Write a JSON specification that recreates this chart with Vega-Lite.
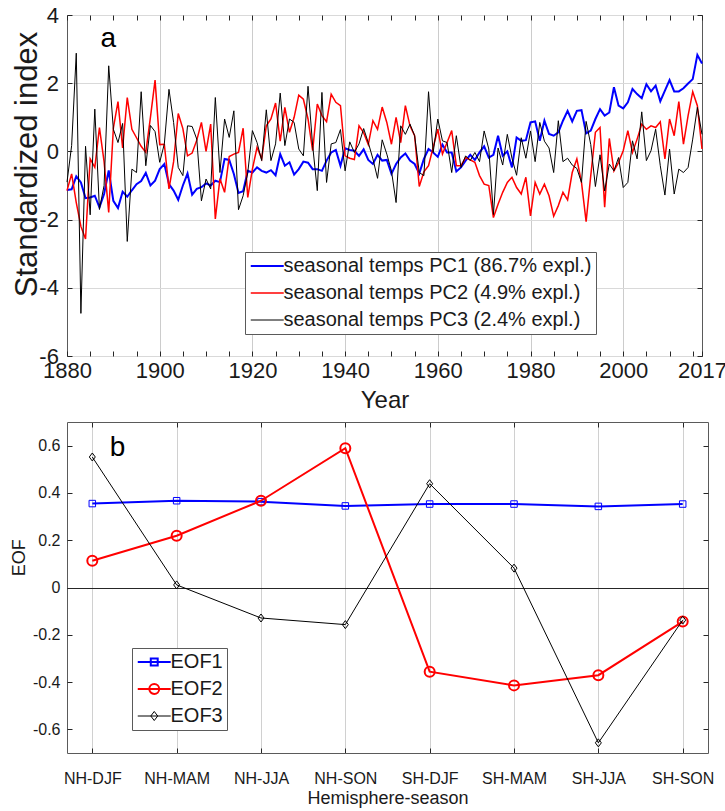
{
  "$schema": "https://vega.github.io/schema/vega-lite/v6.json",
  "autosize": {"type": "pad"},
  "padding": {"left": 10, "top": 3, "right": 0, "bottom": 0},
  "background": "white",
  "spacing": 7,
  "resolve": {
    "scale": {"color": "independent", "strokeWidth": "independent", "x": "independent", "y": "independent"},
    "legend": {"color": "independent", "strokeWidth": "independent"}
  },
  "config": {
    "font": "Liberation Sans",
    "view": {"stroke": "#5a5a5a", "strokeWidth": 1},
    "axis": {"domain": false, "tickColor": "#262626", "tickWidth": 1, "labelColor": "#1a1a1a", "titleColor": "#1a1a1a", "titleFontWeight": "normal", "labelFlush": false, "labelOverlap": false},
    "legend": {"labelColor": "#1a1a1a"}
  },
  "vconcat": [
    {
      "width": 635,
      "height": 341,
      "layer": [
        {
          "data": {"values": [
            {"year":1880,"PC1":-1.13,"PC2":-1.15,"PC3":-0.9},
            {"year":1881,"PC1":-1.11,"PC2":-0.66,"PC3":0.17},
            {"year":1882,"PC1":-0.73,"PC2":-1.5,"PC3":2.88},
            {"year":1883,"PC1":-0.91,"PC2":-2.2,"PC3":-4.75},
            {"year":1884,"PC1":-1.37,"PC2":-2.57,"PC3":0.15},
            {"year":1885,"PC1":-1.35,"PC2":-0.22,"PC3":-1.86},
            {"year":1886,"PC1":-1.3,"PC2":-0.47,"PC3":1.24},
            {"year":1887,"PC1":-1.64,"PC2":0.7,"PC3":-1.7},
            {"year":1888,"PC1":-1.25,"PC2":-0.3,"PC3":-1.0},
            {"year":1889,"PC1":-0.56,"PC2":-1.79,"PC3":2.51},
            {"year":1890,"PC1":-1.45,"PC2":0.68,"PC3":0.65},
            {"year":1891,"PC1":-1.66,"PC2":1.46,"PC3":0.26},
            {"year":1892,"PC1":-1.18,"PC2":0.1,"PC3":0.82},
            {"year":1893,"PC1":-1.33,"PC2":1.58,"PC3":-2.64},
            {"year":1894,"PC1":-1.14,"PC2":0.65,"PC3":-0.52},
            {"year":1895,"PC1":-0.96,"PC2":0.4,"PC3":-0.62},
            {"year":1896,"PC1":-0.87,"PC2":0.15,"PC3":1.75},
            {"year":1897,"PC1":-0.63,"PC2":-0.03,"PC3":-0.42},
            {"year":1898,"PC1":-1.0,"PC2":1.0,"PC3":0.76},
            {"year":1899,"PC1":-0.86,"PC2":2.09,"PC3":0.58},
            {"year":1900,"PC1":-0.52,"PC2":0.2,"PC3":-0.32},
            {"year":1901,"PC1":-0.37,"PC2":0.21,"PC3":0.22},
            {"year":1902,"PC1":-0.96,"PC2":-1.1,"PC3":1.82},
            {"year":1903,"PC1":-1.15,"PC2":-0.3,"PC3":0.85},
            {"year":1904,"PC1":-1.42,"PC2":1.11,"PC3":-0.47},
            {"year":1905,"PC1":-1.0,"PC2":0.67,"PC3":-0.71},
            {"year":1906,"PC1":-0.65,"PC2":-0.13,"PC3":0.75},
            {"year":1907,"PC1":-1.27,"PC2":-0.05,"PC3":0.73},
            {"year":1908,"PC1":-1.1,"PC2":0.33,"PC3":0.36},
            {"year":1909,"PC1":-1.05,"PC2":0.85,"PC3":-1.45},
            {"year":1910,"PC1":-0.94,"PC2":0.0,"PC3":-0.81},
            {"year":1911,"PC1":-1.0,"PC2":0.8,"PC3":-1.1},
            {"year":1912,"PC1":-0.86,"PC2":-1.98,"PC3":1.58},
            {"year":1913,"PC1":-0.9,"PC2":-0.8,"PC3":-0.62},
            {"year":1914,"PC1":-0.22,"PC2":-1.2,"PC3":0.95},
            {"year":1915,"PC1":-0.25,"PC2":-0.15,"PC3":0.41},
            {"year":1916,"PC1":-0.66,"PC2":-0.08,"PC3":1.19},
            {"year":1917,"PC1":-1.22,"PC2":-0.03,"PC3":-1.71},
            {"year":1918,"PC1":-1.17,"PC2":0.68,"PC3":-1.3},
            {"year":1919,"PC1":-0.57,"PC2":-1.35,"PC3":-0.62},
            {"year":1920,"PC1":-0.62,"PC2":-0.52,"PC3":0.61},
            {"year":1921,"PC1":-0.47,"PC2":0.12,"PC3":0.26},
            {"year":1922,"PC1":-0.57,"PC2":-0.22,"PC3":-0.27},
            {"year":1923,"PC1":-0.62,"PC2":0.75,"PC3":1.22},
            {"year":1924,"PC1":-0.55,"PC2":0.95,"PC3":-0.27},
            {"year":1925,"PC1":-0.7,"PC2":1.42,"PC3":0.22},
            {"year":1926,"PC1":-0.08,"PC2":0.3,"PC3":1.71},
            {"year":1927,"PC1":-0.42,"PC2":1.29,"PC3":0.17},
            {"year":1928,"PC1":-0.32,"PC2":0.56,"PC3":0.95},
            {"year":1929,"PC1":-0.68,"PC2":1.0,"PC3":0.85},
            {"year":1930,"PC1":-0.52,"PC2":1.65,"PC3":0.07},
            {"year":1931,"PC1":-0.3,"PC2":1.53,"PC3":-0.13},
            {"year":1932,"PC1":-0.33,"PC2":0.95,"PC3":1.91},
            {"year":1933,"PC1":-0.52,"PC2":0.02,"PC3":0.17},
            {"year":1934,"PC1":-0.52,"PC2":1.39,"PC3":-1.15},
            {"year":1935,"PC1":-0.57,"PC2":1.05,"PC3":1.73},
            {"year":1936,"PC1":-0.27,"PC2":0.87,"PC3":-0.91},
            {"year":1937,"PC1":-0.03,"PC2":1.68,"PC3":0.22},
            {"year":1938,"PC1":0.04,"PC2":1.44,"PC3":0.26},
            {"year":1939,"PC1":-0.42,"PC2":1.34,"PC3":0.64},
            {"year":1940,"PC1":0.09,"PC2":-0.13,"PC3":-0.57},
            {"year":1941,"PC1":0.04,"PC2":-0.2,"PC3":0.28},
            {"year":1942,"PC1":0.02,"PC2":-0.24,"PC3":-0.03},
            {"year":1943,"PC1":-0.13,"PC2":0.75,"PC3":0.22},
            {"year":1944,"PC1":0.06,"PC2":0.55,"PC3":0.67},
            {"year":1945,"PC1":-0.25,"PC2":0.2,"PC3":0.26},
            {"year":1946,"PC1":-0.37,"PC2":0.9,"PC3":-0.22},
            {"year":1947,"PC1":-0.1,"PC2":0.65,"PC3":-0.79},
            {"year":1948,"PC1":-0.27,"PC2":1.3,"PC3":0.34},
            {"year":1949,"PC1":-0.25,"PC2":0.85,"PC3":-0.08},
            {"year":1950,"PC1":-0.66,"PC2":0.21,"PC3":-0.57},
            {"year":1951,"PC1":-0.37,"PC2":1.0,"PC3":-1.5},
            {"year":1952,"PC1":-0.18,"PC2":0.26,"PC3":0.75},
            {"year":1953,"PC1":-0.06,"PC2":1.34,"PC3":0.5},
            {"year":1954,"PC1":-0.27,"PC2":0.75,"PC3":0.8},
            {"year":1955,"PC1":-0.37,"PC2":0.46,"PC3":0.46},
            {"year":1956,"PC1":-0.65,"PC2":-1.03,"PC3":-0.62},
            {"year":1957,"PC1":-0.22,"PC2":-0.6,"PC3":-0.71},
            {"year":1958,"PC1":0.07,"PC2":-0.42,"PC3":1.75},
            {"year":1959,"PC1":-0.03,"PC2":0.12,"PC3":-0.03},
            {"year":1960,"PC1":-0.16,"PC2":0.65,"PC3":0.95},
            {"year":1961,"PC1":0.2,"PC2":-0.08,"PC3":0.31},
            {"year":1962,"PC1":-0.03,"PC2":0.26,"PC3":0.26},
            {"year":1963,"PC1":-0.03,"PC2":0.61,"PC3":-0.62},
            {"year":1964,"PC1":-0.59,"PC2":-0.42,"PC3":0.46},
            {"year":1965,"PC1":-0.47,"PC2":-0.42,"PC3":-0.47},
            {"year":1966,"PC1":-0.27,"PC2":-0.18,"PC3":-0.13},
            {"year":1967,"PC1":-0.1,"PC2":-0.25,"PC3":-0.27},
            {"year":1968,"PC1":-0.25,"PC2":-0.32,"PC3":-0.03},
            {"year":1969,"PC1":-0.03,"PC2":-0.71,"PC3":-0.3},
            {"year":1970,"PC1":0.15,"PC2":-0.96,"PC3":0.6},
            {"year":1971,"PC1":-0.18,"PC2":-1.0,"PC3":0.07},
            {"year":1972,"PC1":-0.1,"PC2":-1.94,"PC3":-1.85},
            {"year":1973,"PC1":0.46,"PC2":-1.55,"PC3":0.1},
            {"year":1974,"PC1":-0.13,"PC2":-1.2,"PC3":-0.4},
            {"year":1975,"PC1":0.0,"PC2":-0.91,"PC3":0.5},
            {"year":1976,"PC1":-0.47,"PC2":-0.76,"PC3":-0.2},
            {"year":1977,"PC1":0.41,"PC2":-1.06,"PC3":-0.7},
            {"year":1978,"PC1":0.31,"PC2":-1.25,"PC3":0.4},
            {"year":1979,"PC1":0.33,"PC2":-0.76,"PC3":-0.2},
            {"year":1980,"PC1":0.85,"PC2":-1.89,"PC3":0.6},
            {"year":1981,"PC1":0.88,"PC2":-0.91,"PC3":-0.3},
            {"year":1982,"PC1":0.31,"PC2":-1.25,"PC3":0.85},
            {"year":1983,"PC1":0.9,"PC2":-0.96,"PC3":0.3},
            {"year":1984,"PC1":0.51,"PC2":-1.3,"PC3":0.1},
            {"year":1985,"PC1":0.46,"PC2":-1.9,"PC3":-0.62},
            {"year":1986,"PC1":0.56,"PC2":-1.59,"PC3":0.9},
            {"year":1987,"PC1":0.9,"PC2":-1.2,"PC3":-0.3},
            {"year":1988,"PC1":1.19,"PC2":-1.42,"PC3":-0.2},
            {"year":1989,"PC1":0.88,"PC2":-0.62,"PC3":-0.4},
            {"year":1990,"PC1":1.19,"PC2":-0.22,"PC3":-0.5},
            {"year":1991,"PC1":1.21,"PC2":-0.91,"PC3":-0.91},
            {"year":1992,"PC1":0.53,"PC2":-2.06,"PC3":0.88},
            {"year":1993,"PC1":0.61,"PC2":-0.71,"PC3":0.2},
            {"year":1994,"PC1":0.95,"PC2":0.56,"PC3":-1.03},
            {"year":1995,"PC1":1.24,"PC2":0.7,"PC3":-0.1},
            {"year":1996,"PC1":1.05,"PC2":-1.64,"PC3":-1.16},
            {"year":1997,"PC1":1.14,"PC2":0.38,"PC3":-0.37},
            {"year":1998,"PC1":1.88,"PC2":-0.57,"PC3":-0.57},
            {"year":1999,"PC1":1.34,"PC2":-0.32,"PC3":-0.18},
            {"year":2000,"PC1":1.26,"PC2":0.02,"PC3":-1.06},
            {"year":2001,"PC1":1.44,"PC2":0.61,"PC3":-0.91},
            {"year":2002,"PC1":1.83,"PC2":-0.03,"PC3":0.31},
            {"year":2003,"PC1":1.68,"PC2":0.36,"PC3":-0.22},
            {"year":2004,"PC1":1.56,"PC2":0.8,"PC3":1.16},
            {"year":2005,"PC1":1.97,"PC2":0.65,"PC3":-0.27},
            {"year":2006,"PC1":1.76,"PC2":0.75,"PC3":0.02},
            {"year":2007,"PC1":1.93,"PC2":0.7,"PC3":0.65},
            {"year":2008,"PC1":1.47,"PC2":0.87,"PC3":-0.42},
            {"year":2009,"PC1":1.78,"PC2":-0.22,"PC3":-1.28},
            {"year":2010,"PC1":2.09,"PC2":0.95,"PC3":0.07},
            {"year":2011,"PC1":1.76,"PC2":0.46,"PC3":-1.25},
            {"year":2012,"PC1":1.76,"PC2":1.46,"PC3":-0.52},
            {"year":2013,"PC1":1.85,"PC2":0.21,"PC3":-0.62},
            {"year":2014,"PC1":1.99,"PC2":1.05,"PC3":-0.47},
            {"year":2015,"PC1":2.12,"PC2":1.75,"PC3":0.36},
            {"year":2016,"PC1":2.83,"PC2":1.34,"PC3":1.29},
            {"year":2017,"PC1":2.58,"PC2":0.07,"PC3":0.5}
          ]},
          "transform": [{"fold": ["PC1", "PC2", "PC3"], "as": ["series", "value"]}],
          "mark": {"type": "line"},
          "encoding": {
            "x": {
              "field": "year", "type": "quantitative",
              "scale": {"domain": [1880, 2017], "nice": false, "zero": false},
              "axis": {
                "orient": "bottom",
                "values": [1880,1885,1890,1895,1900,1905,1910,1915,1920,1925,1930,1935,1940,1945,1950,1955,1960,1965,1970,1975,1980,1985,1990,1995,2000,2005,2010,2015,2017],
                "labelExpr": "(datum.value % 20 == 0 || datum.value == 2017) ? toString(datum.value) : ''",
                "labelFontSize": 22, "labelPadding": 9.7, "tickSize": -5,
                "grid": true, "gridColor": "#cccccc",
                "gridOpacity": {"condition": {"test": "datum.value % 20 == 0 && datum.value > 1880 && datum.value < 2017", "value": 1}, "value": 0},
                "title": "Year", "titleFontSize": 24, "titleX": 317.5, "titleY": 51.6, "titleBaseline": "alphabetic", "titleAlign": "center"
              }
            },
            "y": {
              "field": "value", "type": "quantitative",
              "scale": {"domain": [-6, 4], "nice": false, "zero": false},
              "axis": {
                "values": [-6, -4, -2, 0, 2, 4],
                "labelExpr": "toString(datum.value)",
                "labelFontSize": 22, "labelPadding": 13.6, "tickSize": -5,
                "grid": true, "gridColor": "#d9d9d9",
                "title": "Standardized index", "titleFontSize": 31, "titleX": -31, "titleY": 149, "titleAngle": -90, "titleBaseline": "alphabetic", "titleAlign": "center"
              }
            },
            "color": {
              "field": "series", "type": "nominal",
              "scale": {"domain": ["PC1", "PC2", "PC3"], "range": ["#0000ff", "#ff0000", "#000000"]},
              "legend": {
                "orient": "none", "legendX": 178, "legendY": 237, "title": null,
                "labelFontSize": 20, "labelLimit": 0,
                "labelExpr": "datum.value == 'PC1' ? 'seasonal temps PC1 (86.7% expl.)' : datum.value == 'PC2' ? 'seasonal temps PC2 (4.9% expl.)' : 'seasonal temps PC3 (2.4% expl.)'",
                "symbolSize": 272, "labelOffset": 14.5, "rowPadding": 7, "padding": 4,
                "strokeColor": "#5a5a5a", "fillColor": "white",
                "encode": {"symbols": {"update": {
                  "shape": {"value": "M-1,0L3,0"},
                  "strokeWidth": {"signal": "datum.value === 'PC1' ? 2 : 1"},
                  "fill": {"value": "transparent"},
                  "size": {"value": 272}
                }}}
              }
            },
            "strokeWidth": {
              "field": "series", "type": "nominal",
              "scale": {"domain": ["PC1", "PC2", "PC3"], "range": [2, 1, 1]},
              "legend": null
            }
          }
        },
        {
          "data": {"values": [{"year": 1888.9, "value": 3.05, "label": "a"}]},
          "mark": {"type": "text", "fontSize": 28, "align": "center", "baseline": "alphabetic", "color": "#000000"},
          "encoding": {
            "x": {
              "field": "year", "type": "quantitative",
              "scale": {"domain": [1880, 2017], "nice": false, "zero": false},
              "axis": {"orient": "top", "values": [1880,1885,1890,1895,1900,1905,1910,1915,1920,1925,1930,1935,1940,1945,1950,1955,1960,1965,1970,1975,1980,1985,1990,1995,2000,2005,2010,2015,2017], "labels": false, "title": null, "tickSize": -5, "grid": false}
            },
            "y": {
              "field": "value", "type": "quantitative",
              "scale": {"domain": [-6, 4], "nice": false, "zero": false},
              "axis": {"orient": "right", "values": [-6, -4, -2, 0, 2, 4], "labels": false, "title": null, "tickSize": -5, "grid": false}
            },
            "text": {"field": "label"}
          }
        }
      ],
      "resolve": {"axis": {"x": "independent", "y": "independent"}}
    },
    {
      "width": 641,
      "height": 331,
      "data": {"values": [
        {"idx": 1, "EOF1": 0.355, "EOF2": 0.113, "EOF3": 0.552},
        {"idx": 2, "EOF1": 0.367, "EOF2": 0.219, "EOF3": 0.011},
        {"idx": 3, "EOF1": 0.363, "EOF2": 0.367, "EOF3": -0.129},
        {"idx": 4, "EOF1": 0.345, "EOF2": 0.589, "EOF3": -0.157},
        {"idx": 5, "EOF1": 0.353, "EOF2": -0.356, "EOF3": 0.439},
        {"idx": 6, "EOF1": 0.353, "EOF2": -0.414, "EOF3": 0.082},
        {"idx": 7, "EOF1": 0.343, "EOF2": -0.371, "EOF3": -0.657},
        {"idx": 8, "EOF1": 0.353, "EOF2": -0.144, "EOF3": -0.138}
      ]},
      "layer": [
        {
          "transform": [{"fold": ["EOF1", "EOF2", "EOF3"], "as": ["series", "value"]}, {"filter": "datum.series === 'EOF1'"}],
          "mark": {"type": "line", "strokeWidth": 2, "point": {"filled": false, "size": 100, "opacity": 1, "strokeWidth": 1, "shape": "M-0.65,-0.65L0.65,-0.65L0.65,0.65L-0.65,0.65Z"}},
          "encoding": {
            "x": {
              "field": "idx", "type": "quantitative",
              "scale": {"domain": [0.7, 8.3], "nice": false, "zero": false},
              "axis": {
                "values": [1, 2, 3, 4, 5, 6, 7, 8],
                "labelExpr": "['NH-DJF','NH-MAM','NH-JJA','NH-SON','SH-DJF','SH-MAM','SH-JJA','SH-SON'][datum.value - 1]",
                "labelFontSize": 16, "labelPadding": 22.6, "tickSize": -5,
                "grid": true, "gridColor": "#d0d0d0",
                "title": "Hemisphere-season", "titleFontSize": 18, "titleX": 320.5, "titleY": 50, "titleBaseline": "alphabetic", "titleAlign": "center"
              }
            },
            "y": {
              "field": "value", "type": "quantitative",
              "scale": {"domain": [-0.7, 0.7], "nice": false, "zero": false},
              "axis": {
                "values": [-0.6, -0.4, -0.2, 0, 0.2, 0.4, 0.6],
                "labelExpr": "toString(datum.value)",
                "labelFontSize": 16, "labelPadding": 12, "tickSize": -5,
                "grid": true, "gridColor": "#262626",
                "gridOpacity": {"condition": {"test": "datum.value == 0", "value": 1}, "value": 0},
                "title": "EOF", "titleFontSize": 18, "titleX": -42.2, "titleY": 135.3, "titleAngle": -90, "titleBaseline": "alphabetic", "titleAlign": "center"
              }
            },
            "color": {
              "field": "series", "type": "nominal",
              "scale": {"domain": ["EOF1", "EOF2", "EOF3"], "range": ["#0000ff", "#ff0000", "#000000"]},
              "legend": {
                "orient": "none", "legendX": 65, "legendY": 226, "title": null,
                "labelFontSize": 20, "labelLimit": 0,
                "symbolSize": 272, "labelOffset": 14.5, "rowPadding": 7, "padding": 4,
                "strokeColor": "#5a5a5a", "fillColor": "white",
                "encode": {"symbols": {"update": {
                  "shape": {"signal": "datum.value === 'EOF1' ? 'M-1,0L3,0M0.58,-0.42L1.42,-0.42L1.42,0.42L0.58,0.42Z' : datum.value === 'EOF2' ? 'M-1,0L3,0M1.6,0A0.6,0.6,0,1,1,0.4,0A0.6,0.6,0,1,1,1.6,0Z' : 'M-1,0L3,0M1,-0.55L1.42,0L1,0.55L0.58,0Z'"},
                  "strokeWidth": {"signal": "datum.value === 'EOF3' ? 1 : 2"},
                  "fill": {"value": "transparent"},
                  "size": {"value": 272}
                }}}
              }
            }
          }
        },
        {
          "transform": [{"fold": ["EOF1", "EOF2", "EOF3"], "as": ["series", "value"]}, {"filter": "datum.series === 'EOF2'"}],
          "mark": {"type": "line", "strokeWidth": 2, "point": {"filled": false, "size": 100, "opacity": 1, "strokeWidth": 2, "shape": "M1,0A1,1,0,1,1,-1,0A1,1,0,1,1,1,0Z"}},
          "encoding": {
            "x": {"field": "idx", "type": "quantitative", "scale": {"domain": [0.7, 8.3], "nice": false, "zero": false}, "axis": null},
            "y": {"field": "value", "type": "quantitative", "scale": {"domain": [-0.7, 0.7], "nice": false, "zero": false}, "axis": null},
            "color": {"field": "series", "type": "nominal", "scale": {"domain": ["EOF1", "EOF2", "EOF3"], "range": ["#0000ff", "#ff0000", "#000000"]}}
          }
        },
        {
          "transform": [{"fold": ["EOF1", "EOF2", "EOF3"], "as": ["series", "value"]}, {"filter": "datum.series === 'EOF3'"}],
          "mark": {"type": "line", "strokeWidth": 1, "point": {"filled": false, "size": 100, "opacity": 1, "strokeWidth": 1, "shape": "M0,-0.8L0.6,0L0,0.8L-0.6,0Z"}},
          "encoding": {
            "x": {"field": "idx", "type": "quantitative", "scale": {"domain": [0.7, 8.3], "nice": false, "zero": false}, "axis": null},
            "y": {"field": "value", "type": "quantitative", "scale": {"domain": [-0.7, 0.7], "nice": false, "zero": false}, "axis": null},
            "color": {"field": "series", "type": "nominal", "scale": {"domain": ["EOF1", "EOF2", "EOF3"], "range": ["#0000ff", "#ff0000", "#000000"]}}
          }
        },
        {
          "data": {"values": [{"idx": 1.3, "value": 0.555, "label": "b"}]},
          "mark": {"type": "text", "fontSize": 28, "align": "center", "baseline": "alphabetic", "color": "#000000"},
          "encoding": {
            "x": {
              "field": "idx", "type": "quantitative",
              "scale": {"domain": [0.7, 8.3], "nice": false, "zero": false},
              "axis": {"orient": "top", "values": [1, 2, 3, 4, 5, 6, 7, 8], "labels": false, "title": null, "tickSize": -5, "grid": false}
            },
            "y": {
              "field": "value", "type": "quantitative",
              "scale": {"domain": [-0.7, 0.7], "nice": false, "zero": false},
              "axis": {"orient": "right", "values": [-0.6, -0.4, -0.2, 0, 0.2, 0.4, 0.6], "labels": false, "title": null, "tickSize": -5, "grid": false}
            },
            "text": {"field": "label"}
          }
        }
      ],
      "resolve": {"axis": {"x": "independent", "y": "independent"}}
    }
  ]
}
